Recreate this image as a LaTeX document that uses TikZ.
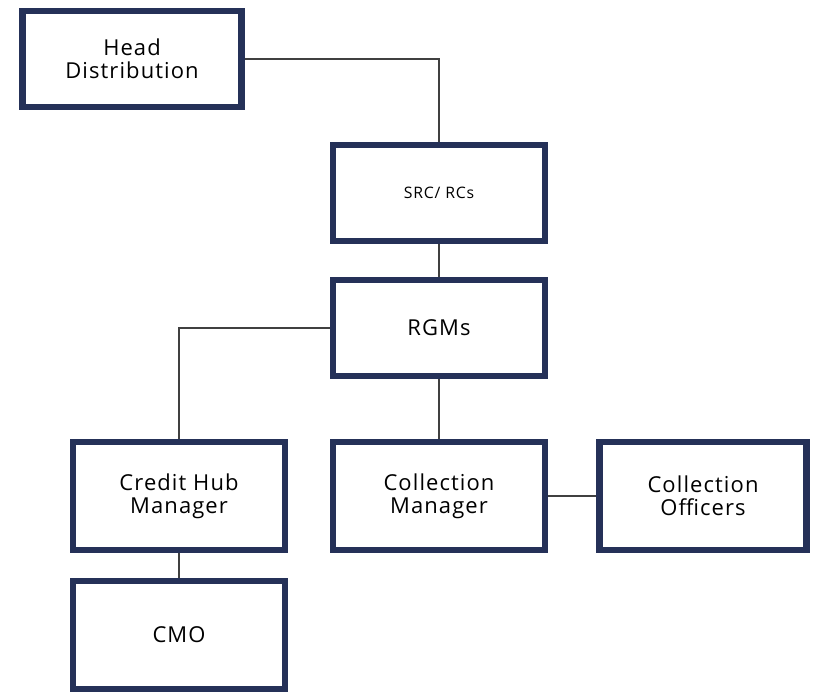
\documentclass[tikz,border=0pt]{standalone}
\usepackage{fontspec}
\setmainfont{Open Sans}[LetterSpace=5]
\definecolor{boxnavy}{HTML}{253158}
\definecolor{linegray}{HTML}{404040}

\begin{document}
\begin{tikzpicture}[x=0.02cm,y=-0.02cm,
        post/.style={draw=boxnavy,line width=3.6pt,fill=white,align=center,
            minimum width=4.24cm,minimum height=1.92cm,inner sep=0pt,
            font=\fontsize{12.5}{13}\selectfont,text=black},
        link/.style={draw=linegray,line width=1.2pt}]
        \useasboundingbox (0,0) rectangle (819,691);

        % top of the chart
        \node[post,minimum width=4.38cm] (head) at (132,59) {Head\\Distribution};
        \node[post,font=\fontsize{9}{11}\selectfont] (src) at (439,193) {SRC/ RCs};
        \node[post] (rgm) at (439,328) {RGMs};

        % lower rows
        \node[post,minimum height=2.16cm] (chm) at (179,496) {Credit Hub\\Manager};
        \node[post,minimum height=2.16cm] (colmgr) at (439,496) {Collection\\Manager};
        \node[post,minimum height=2.16cm,minimum width=4.14cm] (colofc) at (703,496) {Collection\\Officers};
        \node[post,minimum height=2.16cm] (cmo) at (179,635) {CMO};

        % connectors
        \draw[link] (head.east) -| (src.north);
        \draw[link] (src.south) -- (rgm.north);
        \draw[link] (rgm.west) -| (chm.north);
        \draw[link] (rgm.south) -- (colmgr.north);
        \draw[link] (colmgr.east) -- (colofc.west);
        \draw[link] (chm.south) -- (cmo.north);
    \end{tikzpicture}
\end{document}
